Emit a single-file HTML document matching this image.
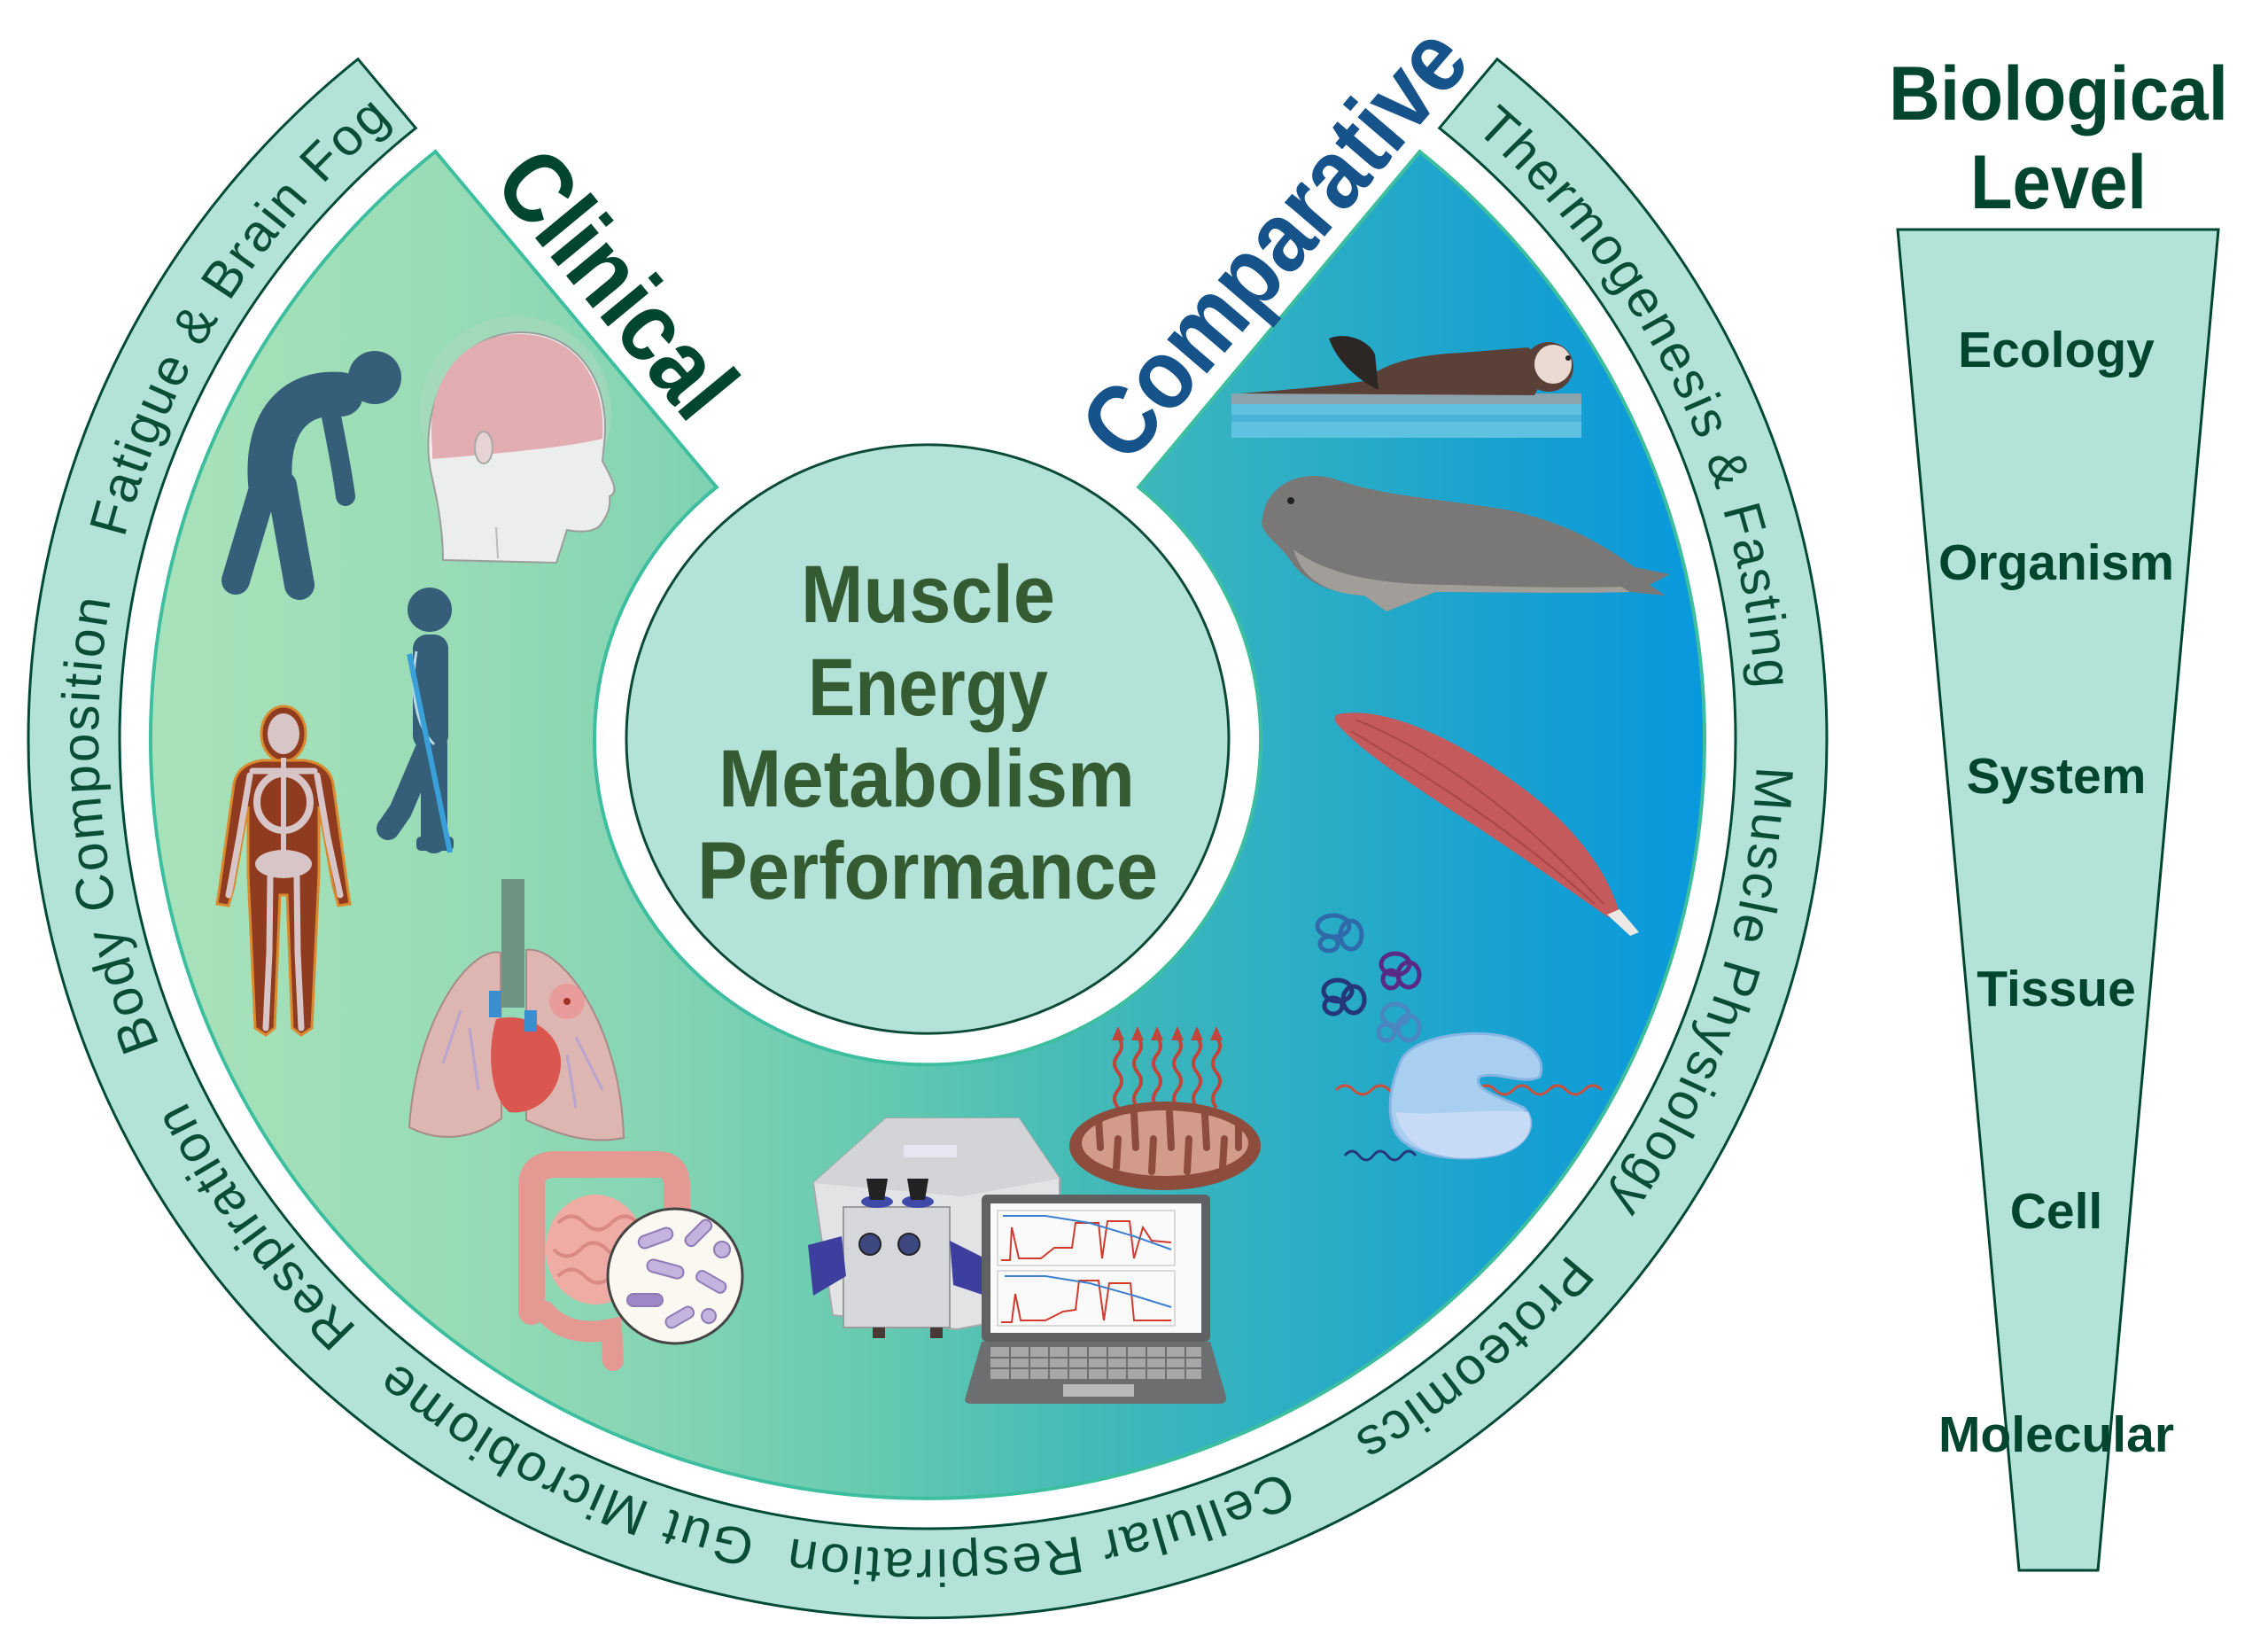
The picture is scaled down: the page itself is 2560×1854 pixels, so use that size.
<!DOCTYPE html>
<html><head><meta charset="utf-8"><style>
html,body{margin:0;padding:0;background:#fff;}
svg{display:block;}
</style></head><body>
<svg width="2560" height="1854" viewBox="0 0 2560 1854" xmlns="http://www.w3.org/2000/svg" font-family="'Liberation Sans', Arial, sans-serif">
<defs>
<linearGradient id="sg" gradientUnits="userSpaceOnUse" x1="-877" y1="0" x2="878" y2="0">
<stop offset="0" stop-color="#a9e2ba"/>
<stop offset="0.188" stop-color="#99dcb6"/>
<stop offset="0.33" stop-color="#84d4b3"/>
<stop offset="0.473" stop-color="#64c9b1"/>
<stop offset="0.558" stop-color="#4dbfb4"/>
<stop offset="0.644" stop-color="#3cb6bc"/>
<stop offset="0.758" stop-color="#29acc6"/>
<stop offset="0.9" stop-color="#149fd3"/>
<stop offset="1" stop-color="#0898dd"/>
</linearGradient>
<path id="tp" d="M 0,-936 A 936 936 0 1 1 0,936 A 936 936 0 1 1 0,-936"/>
</defs>
<rect width="2560" height="1854" fill="#fff"/>

<g transform="translate(1047,834) scale(1,0.977)">
  <path d="M 642.9,-785.4 A 1015 1015 0 1 1 -642.9,-785.4 L -577.7,-705.7 A 912 912 0 1 0 577.7,-705.7 Z" fill="#b3e3d8" stroke="#004a36" stroke-width="3"/>
  <path d="M 238.2,-290.9 L 555.5,-678.6 A 877 877 0 1 1 -555.5,-678.6 L -238.2,-290.9 A 376 376 0 1 0 238.2,-290.9 Z" fill="url(#sg)" stroke="#3dbe9f" stroke-width="4"/>
  <circle cx="0" cy="0" r="340" fill="#b3e3d8" stroke="#0b4a36" stroke-width="3"/>
  <g font-size="60" fill="#0a4d37" letter-spacing="2.5" text-anchor="middle">
    <text><textPath href="#tp" startOffset="1043.9">Thermogenesis &amp; Fasting</textPath></text>
    <text><textPath href="#tp" startOffset="1770.9">Muscle Physiology</textPath></text>
    <text><textPath href="#tp" startOffset="2275.7">Proteomics</textPath></text>
    <text><textPath href="#tp" startOffset="2811.5">Cellular Respiration</textPath></text>
    <text><textPath href="#tp" startOffset="3363.7">Gut Microbiome</textPath></text>
    <text><textPath href="#tp" startOffset="3814.5">Respiration</textPath></text>
    <text><textPath href="#tp" startOffset="4311.2">Body Composition</textPath></text>
    <text><textPath href="#tp" startOffset="4935.2">Fatigue &amp; Brain Fog</textPath></text>
  </g>
</g>

<!-- Center text -->
<g font-weight="bold" font-size="92" fill="#345b31">
  <text x="904" y="702" textLength="287" lengthAdjust="spacingAndGlyphs">Muscle</text>
  <text x="912" y="807" textLength="271" lengthAdjust="spacingAndGlyphs">Energy</text>
  <text x="811" y="910" textLength="470" lengthAdjust="spacingAndGlyphs">Metabolism</text>
  <text x="787" y="1014" textLength="520" lengthAdjust="spacingAndGlyphs">Performance</text>
</g>

<!-- Headers -->
<text transform="translate(554,208) rotate(50.5)" font-size="112" font-weight="bold" fill="#00452f" textLength="353" lengthAdjust="spacingAndGlyphs">Clinical</text>
<text transform="translate(1272,527) rotate(-49.4)" font-size="112" font-weight="bold" fill="#16538a" textLength="600" lengthAdjust="spacingAndGlyphs">Comparative</text>

<!-- Biological level funnel -->
<polygon points="2142,259 2504,259 2368,1772 2279,1772" fill="#b3e3d8" stroke="#004530" stroke-width="3"/>
<g font-weight="bold" fill="#01452f">
  <text x="2132" y="135" font-size="86" textLength="383" lengthAdjust="spacingAndGlyphs">Biological</text>
  <text x="2224" y="235" font-size="86" textLength="199" lengthAdjust="spacingAndGlyphs">Level</text>
  <g font-size="57" text-anchor="middle">
    <text x="2321" y="414">Ecology</text>
    <text x="2321" y="654">Organism</text>
    <text x="2321" y="895">System</text>
    <text x="2321" y="1135">Tissue</text>
    <text x="2321" y="1386">Cell</text>
    <text x="2321" y="1638">Molecular</text>
  </g>
</g>

<!-- Stooped figure -->
<g stroke="#355e79" fill="none" stroke-linecap="round">
  <circle cx="423" cy="426" r="30" fill="#355e79" stroke="none"/>
  <path d="M385,445 C330,440 300,480 305,545" stroke-width="50"/>
  <path d="M374,470 C380,500 386,530 390,560" stroke-width="22"/>
  <path d="M318,548 L338,660" stroke-width="34"/>
  <path d="M298,548 L266,655" stroke-width="32"/>
</g>

<!-- Head with brain -->
<g>
  <circle cx="582" cy="465" r="108" fill="#a9d9bd" opacity="0.6"/>
  <path d="M500,632 C500,600 495,570 488,540 C470,470 505,378 585,375 C650,373 690,430 682,500 L680,520 C690,540 700,555 688,560 C690,575 683,585 678,592 C670,602 650,600 640,598 L628,635 Z" fill="#eceeed" stroke="#9a9e9c" stroke-width="2"/>
  <path d="M488,505 C480,430 520,378 585,377 C650,376 685,430 680,495 C640,505 560,512 488,518 Z" fill="#e2adb0"/>
  <ellipse cx="546" cy="505" rx="10" ry="18" fill="#e7d3d3" stroke="#a9a9a9" stroke-width="2"/>
  <path d="M560,595 L562,630" stroke="#b8bcba" stroke-width="2"/>
</g>

<!-- Walking figure with crutch -->
<g>
  <circle cx="485" cy="688" r="25" fill="#355e79"/>
  <rect x="466" y="716" width="40" height="130" rx="16" fill="#355e79"/>
  <path d="M484,840 L452,915 L438,935" stroke="#355e79" stroke-width="26" fill="none" stroke-linecap="round"/>
  <path d="M490,840 L490,948" stroke="#355e79" stroke-width="30" fill="none" stroke-linecap="round"/>
  <rect x="470" y="944" width="42" height="16" rx="5" fill="#355e79"/>
  <path d="M470,735 C462,780 470,820 490,840" stroke="#b9d9e6" stroke-width="3" fill="none"/>
  <line x1="462" y1="738" x2="508" y2="962" stroke="#3aa0da" stroke-width="6"/>
</g>

<!-- Skeleton body -->
<g>
  <ellipse cx="320" cy="828" rx="25" ry="31" fill="#8f3b1f" stroke="#d98a2e" stroke-width="3"/>
  <path d="M296,858 L344,858 Q372,862 376,885 L392,1000 L395,1020 L382,1022 L376,1000 L360,910 L360,985 L352,1160 L340,1168 L330,1160 L324,1010 L316,1010 L310,1160 L300,1168 L288,1160 L280,985 L280,910 L264,1000 L258,1022 L245,1020 L248,1000 L264,885 Q268,862 296,858 Z" fill="#8f3b1f" stroke="#d98a2e" stroke-width="3"/>
  <g fill="#d8c5c7" stroke="none">
    <ellipse cx="320" cy="828" rx="18" ry="23"/>
    <ellipse cx="320" cy="905" rx="30" ry="32" fill="none" stroke="#d8c5c7" stroke-width="8"/>
    <rect x="317" y="855" width="6" height="120"/>
    <ellipse cx="320" cy="975" rx="32" ry="16"/>
  </g>
  <g stroke="#d8c5c7" stroke-width="7" stroke-linecap="round" fill="none">
    <path d="M282,875 L270,945 L258,1010"/>
    <path d="M358,875 L370,945 L384,1010"/>
    <path d="M305,990 L304,1075 L300,1160"/>
    <path d="M335,990 L336,1075 L340,1160"/>
    <path d="M285,870 L355,870"/>
  </g>
</g>

<!-- Lungs and heart -->
<g>
  <rect x="566" y="992" width="26" height="145" fill="#6f9382"/>
  <path d="M565,1075 C530,1068 470,1150 462,1272 C500,1292 540,1282 566,1262 Z" fill="#ddb6b2" stroke="#a88a88" stroke-width="2"/>
  <path d="M594,1072 C630,1066 700,1150 704,1284 C665,1292 630,1280 594,1264 Z" fill="#ddb6b2" stroke="#a88a88" stroke-width="2"/>
  <circle cx="640" cy="1130" r="20" fill="#e99a9a"/>
  <circle cx="640" cy="1130" r="4" fill="#a0302a"/>
  <path d="M560,1150 C600,1140 640,1170 632,1210 C625,1245 595,1258 575,1255 C555,1240 548,1190 560,1150 Z" fill="#d9574f"/>
  <rect x="552" y="1118" width="14" height="30" fill="#3a8fd0"/>
  <rect x="592" y="1140" width="14" height="24" fill="#3a8fd0"/>
  <path d="M520,1140 L500,1200 M530,1160 L540,1230 M650,1170 L680,1230 M640,1190 L650,1250" stroke="#b9a3cf" stroke-width="3" fill="none"/>
</g>

<!-- Intestines -->
<g>
  <path d="M600,1480 L600,1335 Q602,1314 628,1314 L742,1314 Q764,1314 764,1338 L764,1400" stroke="#e49a92" stroke-width="30" fill="none" stroke-linecap="round"/>
  <path d="M615,1480 Q640,1510 690,1500 L692,1535" stroke="#e49a92" stroke-width="24" fill="none" stroke-linecap="round"/>
  <ellipse cx="672" cy="1410" rx="56" ry="62" fill="#efaca4"/>
  <path d="M630,1380 q15,-15 30,0 t30,0 t30,0 M625,1410 q15,15 30,0 t30,0 t30,0 M630,1440 q15,-15 30,0 t30,0 t30,0" stroke="#d98a84" stroke-width="4" fill="none"/>
  <circle cx="762" cy="1440" r="76" fill="#fbf8f2" stroke="#444" stroke-width="3"/>
  <g fill="#c4b3df" stroke="#8e7ab5" stroke-width="2">
    <rect x="720" y="1390" width="40" height="14" rx="7" transform="rotate(-20 740 1397)"/>
    <rect x="770" y="1385" width="36" height="13" rx="6" transform="rotate(-45 788 1391)"/>
    <rect x="730" y="1425" width="42" height="14" rx="7" transform="rotate(15 751 1432)"/>
    <rect x="785" y="1440" width="36" height="13" rx="6" transform="rotate(30 803 1446)"/>
    <rect x="708" y="1460" width="40" height="14" rx="7" fill="#9f86c6"/>
    <rect x="750" y="1480" width="34" height="13" rx="6" transform="rotate(-30 767 1486)"/>
    <circle cx="815" cy="1410" r="9"/>
    <circle cx="800" cy="1485" r="8"/>
  </g>
</g>

<!-- Instrument -->
<g>
  <polygon points="1000,1262 1150,1262 1196,1330 1196,1478 1080,1500 940,1484 918,1335" fill="#e2e3e5" stroke="#a8a9ab" stroke-width="2"/>
  <polygon points="918,1335 1000,1262 1150,1262 1196,1330 1085,1350" fill="#d3d4d7"/>
  <rect x="952" y="1362" width="120" height="136" fill="#d6d7da" stroke="#9a9b9d" stroke-width="2"/>
  <ellipse cx="990" cy="1356" rx="18" ry="7" fill="#3f4aa8"/>
  <ellipse cx="1036" cy="1356" rx="18" ry="7" fill="#3f4aa8"/>
  <path d="M978,1330 L1002,1330 L998,1354 L982,1354 Z" fill="#222"/>
  <path d="M1024,1330 L1048,1330 L1044,1354 L1028,1354 Z" fill="#222"/>
  <circle cx="982" cy="1404" r="12" fill="#3d4780" stroke="#222" stroke-width="2"/>
  <circle cx="1026" cy="1404" r="12" fill="#3d4780" stroke="#222" stroke-width="2"/>
  <path d="M912,1405 L950,1395 L955,1440 L918,1462 Z" fill="#3d3f9e"/>
  <path d="M1072,1400 L1108,1418 L1112,1462 L1076,1450 Z" fill="#3d3f9e"/>
  <rect x="985" y="1498" width="14" height="12" fill="#4a3a35"/>
  <rect x="1050" y="1498" width="14" height="12" fill="#4a3a35"/>
  <rect x="1020" y="1292" width="60" height="14" fill="#eef" opacity="0.7"/>
</g>

<!-- Laptop -->
<g>
  <rect x="1108" y="1348" width="258" height="166" rx="6" fill="#606162"/>
  <rect x="1118" y="1358" width="238" height="146" fill="#fafafa"/>
  <rect x="1126" y="1366" width="200" height="62" fill="none" stroke="#bbb" stroke-width="1"/>
  <rect x="1126" y="1434" width="200" height="62" fill="none" stroke="#bbb" stroke-width="1"/>
  <polyline points="1130,1422 1140,1422 1142,1385 1150,1420 1175,1420 1190,1408 1210,1408 1214,1380 1240,1380 1244,1420 1250,1378 1275,1378 1280,1420 1290,1385 1300,1400 1322,1402" fill="none" stroke="#d23a2e" stroke-width="2"/>
  <polyline points="1132,1372 1180,1372 1230,1380 1280,1395 1322,1410" fill="none" stroke="#3b7fd0" stroke-width="2"/>
  <polyline points="1130,1492 1142,1492 1146,1460 1152,1490 1180,1490 1200,1480 1214,1478 1218,1445 1240,1445 1246,1490 1252,1448 1276,1448 1280,1490 1322,1490" fill="none" stroke="#d23a2e" stroke-width="2"/>
  <polyline points="1134,1440 1180,1440 1230,1448 1280,1462 1322,1475" fill="none" stroke="#3b7fd0" stroke-width="2"/>
  <path d="M1108,1514 L1366,1514 L1384,1576 Q1385,1584 1376,1584 L1096,1584 Q1087,1584 1090,1576 Z" fill="#6d6e6f"/>
  <rect x="1118" y="1520" width="238" height="36" fill="#a6a7a8"/>
  <path d="M1118,1532 H1356 M1118,1544 H1356" stroke="#6d6e6f" stroke-width="2"/>
  <path d="M1140,1520 V1556 M1162,1520 V1556 M1184,1520 V1556 M1206,1520 V1556 M1228,1520 V1556 M1250,1520 V1556 M1272,1520 V1556 M1294,1520 V1556 M1316,1520 V1556 M1338,1520 V1556" stroke="#6d6e6f" stroke-width="2"/>
  <rect x="1200" y="1562" width="80" height="14" fill="#b8b9ba"/>
</g>

<!-- Mitochondrion and heat -->
<g>
  <g stroke="#c0453a" stroke-width="4" fill="none">
    <path d="M1262,1250 q-8,-10 0,-20 q8,-10 0,-20 q-8,-10 0,-20 q8,-10 0,-20 L1262,1170"/>
    <path d="M1284,1250 q-8,-10 0,-20 q8,-10 0,-20 q-8,-10 0,-20 q8,-10 0,-20 L1284,1170"/>
    <path d="M1306,1250 q-8,-10 0,-20 q8,-10 0,-20 q-8,-10 0,-20 q8,-10 0,-20 L1306,1170"/>
    <path d="M1329,1250 q-8,-10 0,-20 q8,-10 0,-20 q-8,-10 0,-20 q8,-10 0,-20 L1329,1170"/>
    <path d="M1351,1250 q-8,-10 0,-20 q8,-10 0,-20 q-8,-10 0,-20 q8,-10 0,-20 L1351,1170"/>
    <path d="M1373,1250 q-8,-10 0,-20 q8,-10 0,-20 q-8,-10 0,-20 q8,-10 0,-20 L1373,1170"/>
  </g>
  <g fill="#c0453a">
    <polygon points="1255,1174 1262,1158 1269,1174"/>
    <polygon points="1277,1174 1284,1158 1291,1174"/>
    <polygon points="1299,1174 1306,1158 1313,1174"/>
    <polygon points="1322,1174 1329,1158 1336,1174"/>
    <polygon points="1344,1174 1351,1158 1358,1174"/>
    <polygon points="1366,1174 1373,1158 1380,1174"/>
  </g>
  <ellipse cx="1315" cy="1293" rx="108" ry="50" fill="#8e4c3c"/>
  <ellipse cx="1315" cy="1290" rx="94" ry="37" fill="#d39c8a"/>
  <g stroke="#8e4c3c" stroke-width="8" stroke-linecap="round">
    <line x1="1240" y1="1262" x2="1242" y2="1295"/>
    <line x1="1260" y1="1318" x2="1262" y2="1285"/>
    <line x1="1280" y1="1256" x2="1282" y2="1295"/>
    <line x1="1300" y1="1322" x2="1302" y2="1285"/>
    <line x1="1320" y1="1255" x2="1322" y2="1295"/>
    <line x1="1340" y1="1322" x2="1342" y2="1285"/>
    <line x1="1360" y1="1258" x2="1362" y2="1295"/>
    <line x1="1380" y1="1318" x2="1382" y2="1285"/>
    <line x1="1398" y1="1268" x2="1398" y2="1295"/>
  </g>
</g>

<!-- Sea otter -->
<g>
  <rect x="1390" y="444" width="395" height="50" fill="#5ec2e0"/>
  <rect x="1390" y="444" width="395" height="12" fill="#8aa3ad"/>
  <rect x="1390" y="468" width="395" height="8" fill="#4ab2d6"/>
  <path d="M1400,444 C1450,440 1500,436 1540,430 C1560,410 1600,400 1650,398 L1725,392 C1738,402 1742,432 1732,446 Z" fill="#5b4037"/>
  <path d="M1500,382 C1520,374 1545,384 1552,400 L1556,440 C1535,430 1510,410 1500,382 Z" fill="#2c2624"/>
  <ellipse cx="1748" cy="414" rx="28" ry="28" fill="#5b4037"/>
  <ellipse cx="1753" cy="411" rx="21" ry="22" fill="#eadad2"/>
  <circle cx="1770" cy="404" r="3" fill="#222"/>
</g>

<!-- Seal -->
<g>
  <path d="M1425,585 C1430,545 1470,530 1505,540 C1560,560 1620,562 1700,575 C1770,590 1810,615 1845,640 L1885,648 L1862,660 L1880,672 L1840,668 C1780,670 1700,668 1620,668 L1565,690 L1540,672 C1500,670 1470,655 1455,630 C1440,610 1420,600 1425,585 Z" fill="#7a7876"/>
  <path d="M1460,620 C1500,650 1560,660 1640,660 C1700,662 1770,664 1830,662 L1840,668 C1780,670 1700,668 1620,668 L1565,690 L1540,672 C1500,670 1470,655 1460,620 Z" fill="#a19e99"/>
  <circle cx="1457" cy="565" r="4" fill="#222"/>
</g>

<!-- Muscle -->
<g>
  <path d="M1510,806 C1560,796 1640,830 1720,890 C1780,935 1815,985 1828,1030 L1815,1035 C1780,1010 1730,975 1670,935 C1600,890 1540,850 1514,822 C1506,815 1504,808 1510,806 Z" fill="#c45a5c"/>
  <path d="M1530,812 C1600,840 1700,900 1810,1020 M1525,825 C1600,870 1700,930 1800,1020" stroke="#a94648" stroke-width="2" fill="none"/>
  <path d="M1814,1032 L1828,1026 L1850,1052 L1840,1056 Z" fill="#ece8e4"/>
</g>

<!-- Proteins -->
<g fill="none" stroke-width="5">
  <g stroke="#2f6aaa"><ellipse cx="1505" cy="1045" rx="18" ry="12"/><ellipse cx="1525" cy="1055" rx="12" ry="16"/><ellipse cx="1500" cy="1065" rx="10" ry="8"/></g>
  <g stroke="#5a2a88"><ellipse cx="1575" cy="1088" rx="16" ry="12"/><ellipse cx="1590" cy="1100" rx="12" ry="14"/><ellipse cx="1570" cy="1105" rx="9" ry="10"/></g>
  <g stroke="#26367a"><ellipse cx="1510" cy="1118" rx="16" ry="12"/><ellipse cx="1528" cy="1128" rx="12" ry="15"/><ellipse cx="1505" cy="1135" rx="10" ry="9"/></g>
  <g stroke="#4a86c2"><ellipse cx="1575" cy="1145" rx="15" ry="12"/><ellipse cx="1590" cy="1160" rx="12" ry="14"/><ellipse cx="1565" cy="1165" rx="9" ry="9"/></g>
</g>

<!-- Ribosome -->
<g>
  <path d="M1508,1230 q10,-10 20,0 t20,0 t20,0 t20,0 t20,0 t20,0 t20,0 t20,0 t20,0 t20,0 t20,0 t20,0 t20,0 t20,0 t20,0" stroke="#c9503c" stroke-width="3" fill="none"/>
  <path d="M1580,1200 C1590,1170 1660,1160 1700,1170 C1730,1178 1745,1195 1738,1215 C1720,1225 1690,1208 1670,1215 C1660,1230 1700,1240 1720,1250 C1740,1270 1720,1300 1680,1305 C1630,1312 1580,1300 1572,1270 C1565,1245 1572,1220 1580,1200 Z" fill="#a9cff0" stroke="#86b5e3" stroke-width="3"/>
  <path d="M1575,1255 C1620,1260 1680,1250 1725,1255 C1735,1280 1715,1300 1680,1305 C1630,1312 1585,1300 1575,1255 Z" fill="#c7dbf7"/>
  <path d="M1518,1304 q8,-10 16,0 t16,0 t16,0 t16,0 t16,0" stroke="#26367a" stroke-width="3" fill="none"/>
</g>
</svg>
</body></html>
